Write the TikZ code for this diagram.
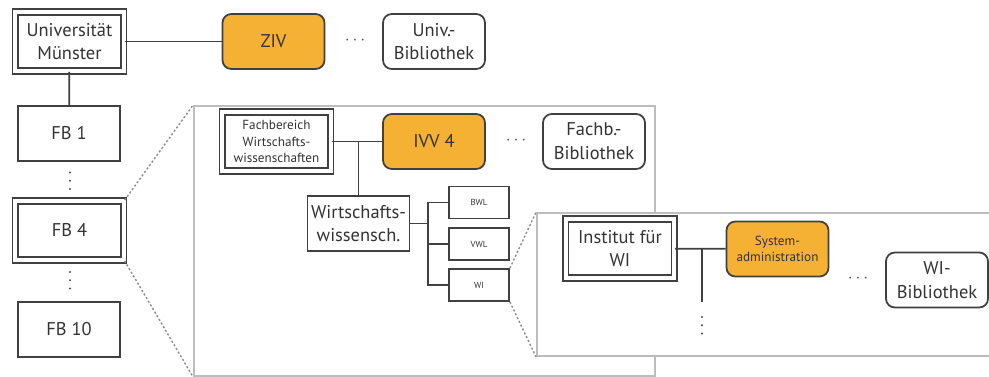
\documentclass[tikz,border=0pt]{standalone}
\usepackage{fontspec}
\setmainfont{PT Sans}
\usepackage{tikz}
\usetikzlibrary{positioning}
\definecolor{unitorange}{HTML}{F5B133}
\definecolor{boxline}{HTML}{404040}
\definecolor{zoomgray}{HTML}{BDBDBD}
\tikzset{box/.style = {draw=boxline, line width=1pt, text=black!80, align=center, inner sep=0pt,
    minimum width=2.04cm, minimum height=1.1cm, font=\fontsize{10.5}{13.5}\selectfont}}
\tikzset{dbox/.style = {box, double, double distance=2.2pt, minimum width=2.17cm, minimum height=1.18cm}}
\tikzset{unit/.style = {box, rounded corners=5pt, fill=unitorange}}
\tikzset{lib/.style = {box, rounded corners=5pt}}
\tikzset{chair/.style = {box, minimum width=1.2cm, minimum height=0.64cm, font=\fontsize{5}{6}\selectfont}}
\tikzset{zoombox/.style = {draw=zoomgray, line width=1.1pt, fill=white}}
\tikzset{zoomline/.style = {draw=black!45, line width=0.8pt, dash pattern=on 1.2pt off 1.2pt}}
\tikzset{conn/.style = {draw=boxline, line width=1pt}}
\tikzset{dots/.style = {text=black!70, inner sep=0pt}}
\tikzset{vdotline/.style = {draw=black!70, line width=1.3pt, line cap=round, dash pattern=on 0pt off 4.7pt}}

\begin{document}
\begin{tikzpicture}[x=0.02cm, y=-0.02cm]
        \useasboundingbox (0,0) rectangle (989,376);
        \clip (0,0) rectangle (989,376);

        % university level
        \node [dbox] (uni) at (69.5,41.5) {Universität\\Münster};
        \node [unit] (ziv) at (273.5,41.5) {ZIV};
        \node [dots] (dotsA) at (355,41) {$\cdots$};
        \node [lib] (unibib) at (434,41.5) {Univ.-\\Bibliothek};

        \node [box] (fb1) at (69,133.5) {FB 1};
        \draw [vdotline] (70,172.5) -- (70,190);
        \node [dbox] (fb4) at (69.5,230.5) {FB 4};
        \draw [vdotline] (70,272) -- (70,289);
        \node [box] (fb10) at (69,329.5) {FB 10};

        \draw [conn] (uni) -- (ziv);
        \draw [conn] (uni) -- (fb1);

        % faculty level
        \node [zoombox, minimum width=9.22cm, minimum height=5.4cm] (fbdetail) at (424.5,241) {};
        \draw [zoomline] (fb4.north east) -- (fbdetail.north west);
        \draw [zoomline] (fb4.south east) -- (fbdetail.south west);

        \node [dbox, font=\fontsize{7.5}{9.4}\selectfont] (wiwi) at (276.5,141.5) {Fachbereich\\Wirtschafts-\\wissenschaften};
        \node [unit] (ivv) at (434,141.5) {IVV 4};
        \node [dots] (dotsB) at (516,141) {$\cdots$};
        \node [lib] (fbbib) at (594,141.5) {Fachb.-\\Bibliothek};
        \node [box] (wiss) at (358.5,223.5) {Wirtschafts-\\wissensch.};
        \node [chair] (bwl) at (479,202.5) {BWL};
        \node [chair] (vwl) at (479,244) {VWL};
        \node [chair] (wi) at (479,285) {WI};

        \coordinate (fork) at (428,223.5);
        \draw [conn] (wiwi) -- (ivv);
        \draw [conn] (wiss) -- (wiss |- wiwi);
        \draw [conn] (wiss) -- (fork);
        \draw [conn] (bwl) -| (fork) |- (wi);
        \draw [conn] (vwl) -- (vwl -| fork);

        % institute level
        \node [zoombox, minimum width=9.26cm, minimum height=2.86cm] (widetail) at (768.5,284.5) {};
        \draw [zoomline] (wi.north east) -- (widetail.north west);
        \draw [zoomline] (wi.south east) -- (widetail.south west);

        \node [dbox] (inst) at (620,248.5) {Institut für\\WI};
        \node [unit, font=\fontsize{7.5}{8.8}\selectfont] (sys) at (777.5,249) {System-\\administration};
        \node [dots] (dotsC) at (858,279) {$\cdots$};
        \node [lib] (wibib) at (937,280) {WI-\\Bibliothek};
        \coordinate (instdown) at (702,302);
        \draw [vdotline] (702,317) -- (702,334);

        \draw [conn] (inst) -- (sys);
        \draw [conn] (instdown |- inst) -- (instdown);
\end{tikzpicture}
\end{document}
